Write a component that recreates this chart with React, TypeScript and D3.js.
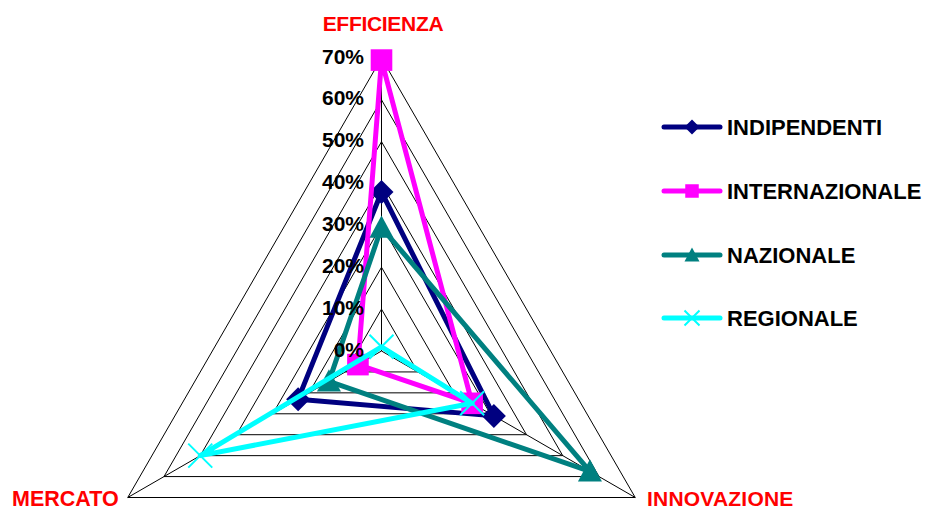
import React from "react";
import * as d3 from "d3";

const axes = ["EFFICIENZA", "INNOVAZIONE", "MERCATO"];
const tickValues = [0, 0.1, 0.2, 0.3, 0.4, 0.5, 0.6, 0.7];
const tickLabels = ["0%", "10%", "20%", "30%", "40%", "50%", "60%", "70%"];
const seriesNames = ["INDIPENDENTI", "INTERNAZIONALE", "NAZIONALE", "REGIONALE"];
const indipendenti = [0.38, 0.31, 0.23];
const internazionale = [0.695, 0.25, 0.065];
const nazionale = [0.295, 0.575, 0.145];
const regionale = [0.01, 0.25, 0.5];
const seriesValues = [indipendenti, internazionale, nazionale, regionale];
const seriesColors = ["#000080", "#FF00FF", "#008080", "#00FFFF"];
const seriesMarkers = ["diamond", "square", "triangle", "x"];

const W = 927;
const H = 507;
const cx = 381.5;
const cy = 351;
const R = 293;
const FONT = "'Liberation Sans', Arial, Helvetica, sans-serif";

const r = d3.scaleLinear().domain([0, 0.7]).range([0, R]);
const angle = (i: number) => (i * 2 * Math.PI) / axes.length;
const pt = (i: number, v: number): [number, number] => [
  cx + r(v) * Math.sin(angle(i)),
  cy - r(v) * Math.cos(angle(i)),
];

function Marker({ type, x, y, size, color }: { type: string; x: number; y: number; size: number; color: string }) {
  const s = size / 2;
  if (type === "diamond") {
    return <path d={`M${x},${y - s}L${x + s},${y}L${x},${y + s}L${x - s},${y}Z`} fill={color} />;
  }
  if (type === "square") {
    const q = s * 0.9;
    return <rect x={x - q} y={y - q} width={2 * q} height={2 * q} fill={color} />;
  }
  if (type === "triangle") {
    return <path d={`M${x},${y - s}L${x + s},${y + s * 0.85}L${x - s},${y + s * 0.85}Z`} fill={color} />;
  }
  return (
    <path
      d={`M${x - s},${y - s}L${x + s},${y + s}M${x - s},${y + s}L${x + s},${y - s}`}
      stroke={color}
      strokeWidth={2}
      fill="none"
    />
  );
}

export default function App() {
  const line = d3
    .lineRadial<number>()
    .angle((_, i) => angle(i))
    .radius((d) => r(d))
    .curve(d3.curveLinearClosed);

  const ringPath = (v: number) =>
    d3
      .lineRadial<number>()
      .angle((_, i) => angle(i))
      .radius(() => r(v))
      .curve(d3.curveLinearClosed)(axes.map(() => v)) as string;

  const legendY = [127, 191, 255, 318];

  return (
    <svg
      width={W}
      height={H}
      style={{ position: "absolute", left: 0, top: 0, background: "#fff" }}
      fontFamily={FONT}
    >
      {/* grid rings */}
      <g transform={`translate(${cx},${cy})`}>
        {tickValues.slice(1).map((v) => (
          <path key={v} d={ringPath(v)} fill="none" stroke="#000" strokeWidth={1} />
        ))}
      </g>
      {/* radial axes */}
      {axes.map((a, i) => {
        const [x, y] = pt(i, 0.7);
        return <line key={a} x1={cx} y1={cy} x2={x} y2={y} stroke="#000" strokeWidth={1} />;
      })}
      {/* series */}
      {seriesValues.map((vals, si) => (
        <g key={seriesNames[si]}>
          <path
            d={line(vals) as string}
            transform={`translate(${cx},${cy})`}
            fill="none"
            stroke={seriesColors[si]}
            strokeWidth={5}
            strokeLinejoin="round"
          />
          {vals.map((v, i) => {
            const [x, y] = pt(i, v);
            return <Marker key={i} type={seriesMarkers[si]} x={x} y={y} size={24} color={seriesColors[si]} />;
          })}
        </g>
      ))}
      {/* tick labels */}
      {tickValues.map((v, i) => (
        <text
          key={v}
          x={364}
          y={cy - r(v) - 2}
          textAnchor="end"
          dominantBaseline="central"
          fontSize={21}
          fontWeight="bold"
          fill="#000"
        >
          {tickLabels[i]}
        </text>
      ))}
      {/* axis labels */}
      <text x={383} y={31} textAnchor="middle" fontSize={21} fontWeight="bold" letterSpacing={-0.3} fill="#FF0000">
        {axes[0]}
      </text>
      <text x={647} y={506} textAnchor="start" fontSize={21} fontWeight="bold" letterSpacing={0.2} fill="#FF0000">
        {axes[1]}
      </text>
      <text x={12} y={506} textAnchor="start" fontSize={21.5} fontWeight="bold" fill="#FF0000">
        {axes[2]}
      </text>
      {/* legend */}
      {seriesNames.map((n, si) => (
        <g key={n}>
          <line x1={664} x2={720} y1={legendY[si]} y2={legendY[si]} stroke={seriesColors[si]} strokeWidth={5} strokeLinecap="round" />
          <Marker type={seriesMarkers[si]} x={692} y={legendY[si]} size={15} color={seriesColors[si]} />
          <text
            x={727}
            y={legendY[si]}
            dominantBaseline="central"
            fontSize={22}
            fontWeight="bold"
            fill="#000"
          >
            {n}
          </text>
        </g>
      ))}
    </svg>
  );
}
